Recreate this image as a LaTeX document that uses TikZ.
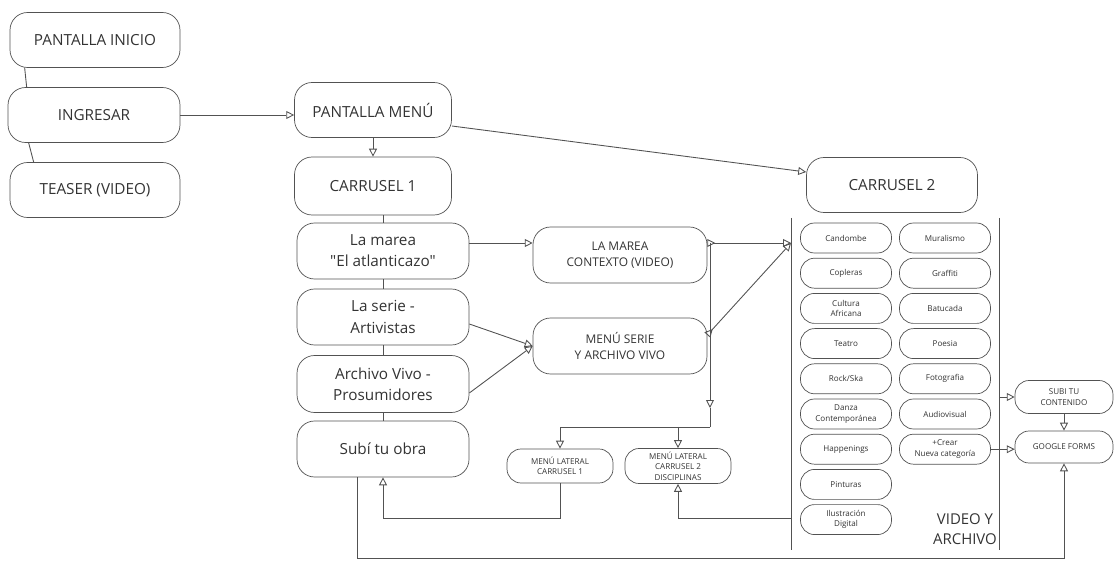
\documentclass[tikz,border=0pt]{standalone}
\usepackage{fontspec}
\setmainfont{Open Sans}[Ligatures=TeXOff]
\usetikzlibrary{arrows.meta,calc}
\definecolor{ink}{rgb}{0.32,0.32,0.32}
\tikzset{bx/.style={draw=ink, rounded corners=10pt, align=center, text=black!80, font=\fontsize{8.7}{12}\selectfont, inner sep=0pt}}
\tikzset{mbx/.style={bx, font=\fontsize{6.8}{9}\selectfont}}
\tikzset{tbx/.style={bx, rounded corners=8pt, font=\fontsize{4.6}{6}\selectfont}}
\tikzset{sbx/.style={tbx, minimum width=1.82cm, minimum height=0.6cm}}
\tikzset{ln/.style={draw=ink, line width=0.5pt}}
\tikzset{ar/.style={ln, -{Triangle[open,length=4.5pt,width=4.5pt]}}}
\tikzset{rar/.style={ln, {Triangle[open,reversed,length=4.5pt,width=4.5pt]}-{Triangle[open,length=4.5pt,width=4.5pt]}}}

\begin{document}
\begin{tikzpicture}[x=0.02cm, y=-0.02cm]
  \useasboundingbox (0,0) rectangle (1116,567);
  % left column
  \node [bx, minimum width=3.4cm, minimum height=1.1cm] (inicio) at (95,40) {PANTALLA INICIO};
  \node [bx, minimum width=3.44cm, minimum height=1.1cm] (ingresar) at (94,115) {INGRESAR};
  \node [bx, minimum width=3.4cm, minimum height=1.1cm] (teaser) at (95,190) {TEASER (VIDEO)};
  \draw [ln] ([xshift=0.3cm]inicio.south west) -- ([xshift=0.38cm]ingresar.north west);
  \draw [ln] ([xshift=0.42cm]ingresar.south west) -- ([xshift=0.48cm]teaser.north west);
  % carrusel 1
  \node [bx, minimum width=3.14cm, minimum height=1.1cm] (menu) at (373,110) {PANTALLA MENÚ};
  \node [bx, minimum width=3.14cm, minimum height=1.16cm] (car1) at (373,186) {CARRUSEL 1};
  \node [bx, minimum width=3.44cm, minimum height=1.12cm] (marea) at (383,251) {La marea\\"El atlanticazo"};
  \node [bx, minimum width=3.44cm, minimum height=1.12cm] (serie) at (383,317) {La serie -\\Artivistas};
  \node [bx, minimum width=3.44cm, minimum height=1.14cm] (archivo) at (383,384) {Archivo Vivo -\\Prosumidores};
  \node [bx, minimum width=3.44cm, minimum height=1.12cm] (subi) at (383,449) {Subí tu obra};
  \draw [ar] (ingresar.east) -- (ingresar.east -| menu.west);
  \draw [ar] (menu.south) -- (car1.north);
  \draw [ln] (marea.north |- car1.south) -- (marea.north);
  \draw [ln] (marea.south) -- (serie.north);
  \draw [ln] (serie.south) -- (archivo.north);
  \draw [ln] (archivo.south) -- (subi.north);
  % submenus
  \node [mbx, minimum width=3.48cm, minimum height=1.12cm] (contexto) at (620,255) {LA MAREA\\CONTEXTO (VIDEO)};
  \node [mbx, minimum width=3.48cm, minimum height=1.12cm] (mserie) at (620,346) {MENÚ SERIE\\Y ARCHIVO VIVO};
  \node [tbx, minimum width=2.12cm, minimum height=0.68cm] (lat1) at (560,466) {MENÚ LATERAL\\CARRUSEL 1};
  \node [tbx, minimum width=2.12cm, minimum height=0.7cm] (lat2) at (678,466) {MENÚ LATERAL\\CARRUSEL 2\\DISCIPLINAS};
  \draw [ar] ([yshift=0.16cm]marea.east) -- ([yshift=0.16cm]marea.east -| contexto.west);
  \draw [ar] ([yshift=-0.14cm]serie.east) -- (mserie.west);
  \draw [ar] ([yshift=-0.18cm]archivo.east) -- (mserie.west);
  % carrusel 2
  \node [bx, minimum width=3.42cm, minimum height=1.1cm] (car2) at (892,185) {CARRUSEL 2};
  \draw [ar] ([yshift=-0.32cm]menu.east) -- ([yshift=0.26cm]car2.west);
  \coordinate (colL) at (791,218);
  \coordinate (colR) at (999,218);
  \draw [ln] (colL) -- (791,550);
  \draw [ln] (colR) -- (999,550);
  \foreach \txt [count=\i] in {Candombe, Copleras, {Cultura\\Africana}, Teatro, Rock/Ska, {Danza\\Contemporánea}, Happenings, Pinturas, {Ilustración\\Digital}}
    \node [sbx] (c\i) at (846,{202.8+35.2*\i}) {\txt};
  \foreach \txt [count=\i] in {Muralismo, Graffiti, Batucada, Poesia, Fotografia, Audiovisual, {+Crear\\Nueva categoría}}
    \node [sbx] (d\i) at (945,{202.8+35.2*\i}) {\txt};
  \node [text=black!80, font=\fontsize{8.5}{11}\selectfont, align=center] (video) at (965,529) {VIDEO Y\\ARCHIVO};
  % links to carrusel 2 and side menus
  \coordinate (jn) at (710,243);
  \coordinate (drop) at (710,408);
  \coordinate (split) at (710,427);
  \draw [rar] ([yshift=0.24cm]contexto.east) -- ([yshift=0.24cm]contexto.east -| colL);
  \draw [rar] ([yshift=0.22cm]mserie.east) -- ([yshift=0.24cm]contexto.east -| colL);
  \draw [ar] (jn) -- (drop);
  \draw [ln] (drop) -- (split);
  \draw [ar] (split) -| (lat1.north);
  \draw [ar] (lat2.north |- split) -- (lat2.north);
  \coordinate (lowA) at (560,518);
  \coordinate (lowB) at (791,518);
  \coordinate (lowC) at (357,558);
  \draw [ar] (lat1.south) -- (lowA) -| (subi.south);
  \draw [ar] (lowB) -| (lat2.south);
  % forms
  \node [tbx, minimum width=1.96cm, minimum height=0.66cm] (subicont) at (1064,397) {SUBI TU\\CONTENIDO};
  \node [tbx, minimum width=1.96cm, minimum height=0.64cm] (gforms) at (1064,447) {GOOGLE FORMS};
  \draw [ar] (subicont.west -| colR) -- (subicont.west);
  \draw [ar] (d7.east) -- (d7.east -| gforms.west);
  \draw [ar] (subicont.south) -- (gforms.north);
  \draw [ar] ([xshift=-0.52cm]subi.south) -- ([xshift=-0.52cm]subi.south |- lowC) -| (gforms.south);
\end{tikzpicture}
\end{document}
